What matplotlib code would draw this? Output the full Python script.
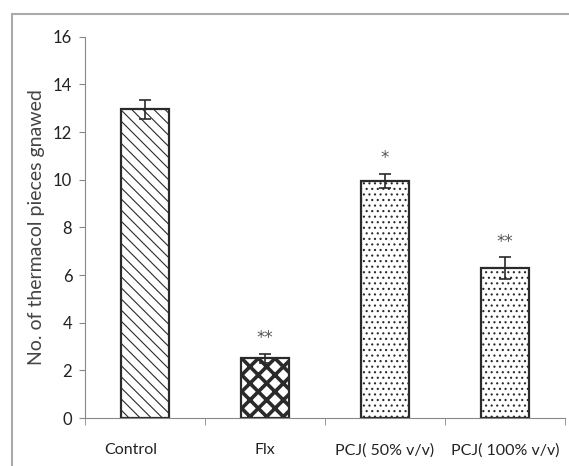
import matplotlib.pyplot as plt
from matplotlib.patches import Rectangle
from matplotlib.transforms import ScaledTranslation
import numpy as np

groups = ['Control', 'Flx', 'PCJ( 50% v/v)', 'PCJ( 100% v/v)']
means = [12.95, 2.5, 9.95, 6.3]
errs = [0.38, 0.2, 0.3, 0.45]
stars = ['', '**', '*', '**']
hatches = ['\\\\\\', 'xx', '...', '...']

plt.rcParams['font.family'] = ['Lato', 'DejaVu Sans']

fig = plt.figure(figsize=(5.69, 4.66), dpi=100)
ax = fig.add_axes([0.149, 0.103, 0.844, 0.818])

x = np.arange(len(groups))
w = 0.4
for i in range(len(groups)):
    plt.rcParams['hatch.linewidth'] = 2.6 if groups[i] == 'Flx' else 0.8
    ax.bar(x[i], means[i], w, color='white', edgecolor='#2a2a2a', hatch=hatches[i], linewidth=1.6, zorder=2)
    ax.errorbar(x[i], means[i], yerr=errs[i], color='#2a2a2a', capsize=4, elinewidth=1.2, capthick=1.2, zorder=4)
    if stars[i]:
        ax.text(x[i], means[i] + errs[i] + 0.65, stars[i], ha='center', va='center',
                fontsize=12, color='#555555', family='DejaVu Sans')

ax.set_xlim(-0.5, 3.5)
ax.set_ylim(0, 16)
ax.set_yticks(range(0, 17, 2))
ax.set_xticks(x)
ax.set_xticklabels(groups, fontsize=11.5, color='#222222')
ax.set_xticks(np.arange(-0.5, 3.6, 1), minor=True)
ax.tick_params(axis='x', which='major', length=0, pad=18)
ax.tick_params(axis='x', which='minor', length=5, color='#888888')
ax.tick_params(axis='y', labelsize=12, labelcolor='#222222', color='#888888', length=4, pad=5)
ax.set_ylabel('No. of thermacol pieces gnawed', fontsize=14, color='#444444', labelpad=6)
# Control label sits a little left of its bar in the original
lbl = ax.get_xticklabels()[0]
lbl.set_transform(lbl.get_transform() + ScaledTranslation(-0.14, 0, fig.dpi_scale_trans))
for s in ['top', 'right']:
    ax.spines[s].set_visible(False)
for s in ['left', 'bottom']:
    ax.spines[s].set_color('#888888')

fig.patches.append(Rectangle((12 / 569, -0.01), 1.0, 1 - 14 / 466 + 0.01, transform=fig.transFigure,
                             fill=False, edgecolor='#aaaaaa', linewidth=1.5))

fig.savefig('out.png', dpi=100)
